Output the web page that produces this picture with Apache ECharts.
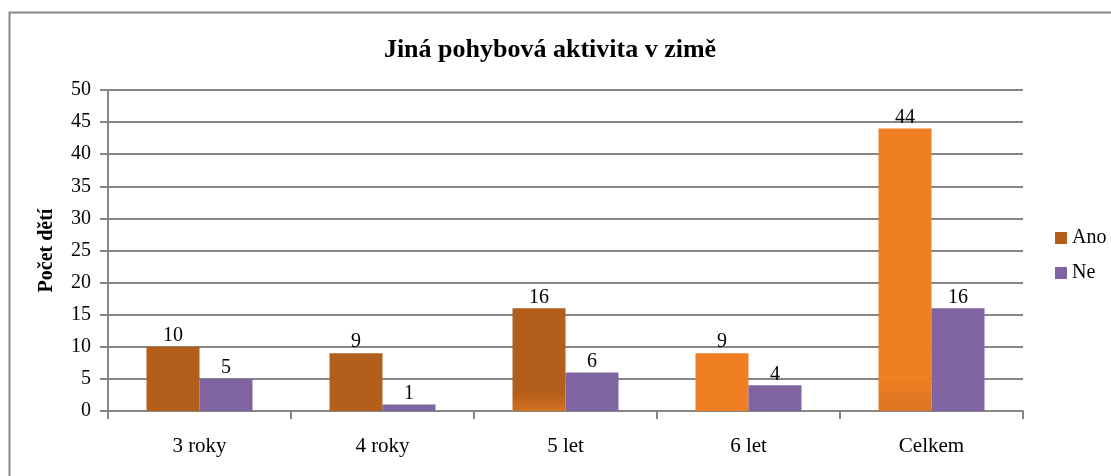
<!DOCTYPE html>
<html>
<head>
<meta charset="utf-8">
<script src="https://cdn.jsdelivr.net/npm/echarts@6/dist/echarts.min.js"></script>
<style>
  body { margin: 0; background: #fff; }
  #chart { width: 1111px; height: 476px; }
</style>
</head>
<body>
<div id="chart"></div>
<script>
var categories = ['3 roky', '4 roky', '5 let', '6 let', 'Celkem'];
var anoValues = [10, 9, 16, 9, 44];
var neValues = [5, 1, 6, 4, 16];

var brown = '#B35E1B';
var orange = '#F07E22';
var purple = '#8064A2';

function grad(top, bottom, stop) {
    return new echarts.graphic.LinearGradient(0, 0, 0, 1, [
        { offset: 0, color: top },
        { offset: stop, color: top },
        { offset: 1, color: bottom }
    ]);
}

var anoColors = [brown, brown, grad(brown, '#D2711F', 0.82), orange, grad(orange, '#DC7424', 0.88)];

var font = 'Liberation Serif';
var chart = echarts.init(document.getElementById('chart'));

var option = {
    backgroundColor: '#fff',
    textStyle: { fontFamily: font },
    title: {
        text: 'Jiná pohybová aktivita v zimě',
        left: 545,
        textAlign: 'center',
        top: 32,
        textStyle: { fontFamily: font, fontSize: 26, fontWeight: 'bold', color: '#000' }
    },
    graphic: [{
        type: 'rect',
        shape: { x: 9.5, y: 12.5, width: 1110, height: 470 },
        style: { fill: 'none', stroke: '#888', lineWidth: 2 },
        silent: true
    }],
    legend: {
        orient: 'vertical',
        left: 1050,
        top: 223,
        itemWidth: 12,
        itemHeight: 12,
        itemGap: 15,
        icon: 'rect',
        textStyle: { fontFamily: font, fontSize: 20, color: '#000' },
        data: [
            { name: 'Ano', itemStyle: { color: brown } },
            { name: 'Ne', itemStyle: { color: purple } }
        ]
    },
    grid: { left: 108, right: 88, top: 90, bottom: 65 },
    xAxis: {
        type: 'category',
        data: categories,
        axisLine: { lineStyle: { color: '#868686', width: 2 } },
        axisTick: { show: true, length: 8, lineStyle: { color: '#868686', width: 2 } },
        axisLabel: { fontFamily: font, fontSize: 21, color: '#000', margin: 25 }
    },
    yAxis: {
        type: 'value',
        min: 0,
        max: 50,
        interval: 5,
        name: 'Počet dětí',
        nameLocation: 'middle',
        nameGap: 51,
        nameTextStyle: { fontFamily: font, fontSize: 20, fontWeight: 'bold', color: '#000' },
        axisLine: { show: true, lineStyle: { color: '#868686', width: 2 } },
        axisTick: { show: true, length: 8, lineStyle: { color: '#868686', width: 2 } },
        axisLabel: { fontFamily: font, fontSize: 20, color: '#000', margin: 17 },
        splitLine: { lineStyle: { color: '#868686', width: 2 } }
    },
    series: [
        {
            name: 'Ano',
            type: 'bar',
            barWidth: 53,
            barGap: '0%',
            itemStyle: { color: brown },
            label: { show: true, position: 'top', distance: 1, fontFamily: font, fontSize: 20, color: '#000' },
            data: anoValues.map(function (v, i) {
                return { value: v, itemStyle: { color: anoColors[i] } };
            })
        },
        {
            name: 'Ne',
            type: 'bar',
            barWidth: 53,
            barGap: '0%',
            itemStyle: { color: purple },
            label: { show: true, position: 'top', distance: 1, fontFamily: font, fontSize: 20, color: '#000' },
            data: neValues
        }
    ]
};

chart.setOption(option);
</script>
</body>
</html>
